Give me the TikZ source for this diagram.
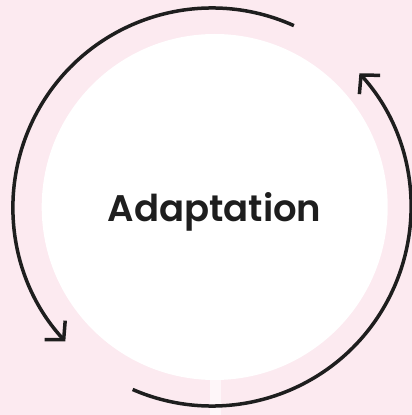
\documentclass[tikz,border=0pt]{standalone}
\usepackage{fontspec}
\newfontfamily\labelfont{Poppins SemiBold}
\usetikzlibrary{arrows.meta,calc}
\definecolor{bgpink}{RGB}{252,234,240}
\definecolor{strip}{RGB}{254,246,249}
\definecolor{ink}{RGB}{30,30,30}
\tikzset{
  cyc/.style={draw=ink,line width=3.5pt,
    -{Straight Barb[length=13pt,width=28pt,line width=3.5pt]}},
}
\begin{document}
\begin{tikzpicture}[x=1pt,y=1pt]
  % backdrop
  \fill[bgpink] (0,0) rectangle (412,415);
  \useasboundingbox (0,0) rectangle (412,415);
  % pale stem under the disc
  \fill[strip] (209.5,0) rectangle (220.5,40);
  % central disc
  \coordinate (disc) at (214.7,208);
  \fill[white] (disc) circle[radius=173];
  \node[font=\labelfont\fontsize{37}{40}\selectfont,text=ink,anchor=base]
    (title) at (214.5,193.3) {Adaptation};
  % cycle arrows
  \coordinate (ring) at (212,208);
  \draw[cyc] ($(ring)+(65.7:199)$) arc[start angle=65.7,end angle=222.5,radius=199];
  \draw[cyc] ($(ring)+(246.5:199)$) arc[start angle=246.5,end angle=402.2,radius=199];
\end{tikzpicture}
\end{document}
